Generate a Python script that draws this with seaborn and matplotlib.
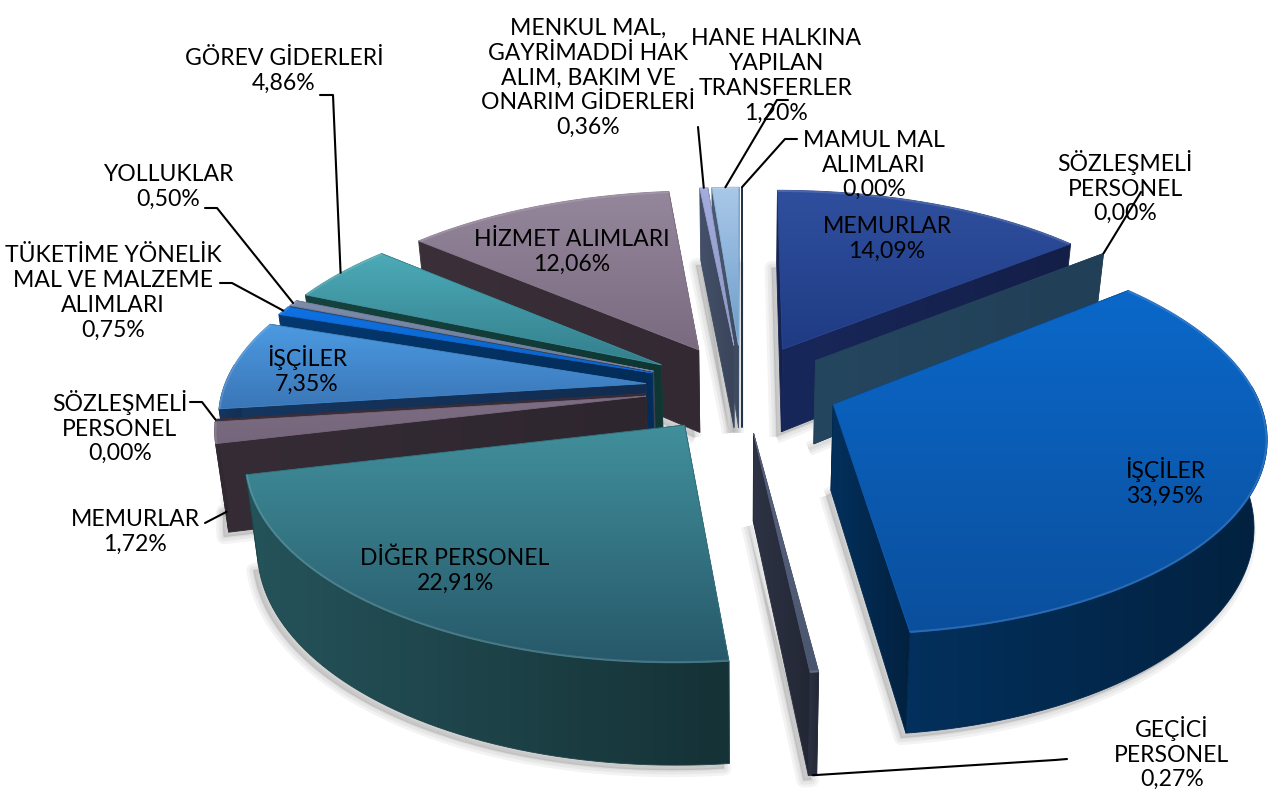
import numpy as np
import matplotlib
matplotlib.use('Agg')
import matplotlib.pyplot as plt
from matplotlib.path import Path
from matplotlib.patches import PathPatch
import seaborn as sns

names = ['MEMURLAR', 'SÖZLEŞMELİ\nPERSONEL', 'İŞÇİLER', 'GEÇİCİ\nPERSONEL', 'DİĞER PERSONEL',
         'MEMURLAR', 'SÖZLEŞMELİ\nPERSONEL', 'İŞÇİLER', 'TÜKETİME YÖNELİK\nMAL VE MALZEME\nALIMLARI',
         'YOLLUKLAR', 'GÖREV GİDERLERİ', 'HİZMET ALIMLARI',
         'MENKUL MAL,\nGAYRİMADDİ HAK\nALIM, BAKIM VE\nONARIM GİDERLERİ',
         'HANE HALKINA\nYAPILAN\nTRANSFERLER', 'MAMUL MAL\nALIMLARI']
values = [14.09, 0.00, 33.95, 0.27, 22.91, 1.72, 0.00, 7.35, 0.75, 0.50, 4.86, 12.06, 0.36, 1.20, 0.00]

top_light = ['#2f4f9e', '#24455f', '#0b68c9', '#5a6680', '#418f9b', '#7d6d83', '#3a2d3a', '#4c9ae2',
             '#0e72e4', '#7d8cab', '#4caab7', '#94869b', '#a3acdc', '#aac8e8', '#22384f']
top_dark = ['#1f3b84', '#24455f', '#0a4f9d', '#4a556e', '#27596a', '#75667b', '#3a2d3a', '#3a76b6',
            '#0c62c4', '#6b7a98', '#347f8c', '#7b6b80', '#8e98c6', '#6c9dcb', '#22384f']
wall_light = ['#18275a', '#25465f', '#03305c', '#2e3345', '#25535a', '#352c35', '#3d303d', '#16365f',
              '#04386f', '#434b5c', '#16433f', '#3b3039', '#44506a', '#4a5a72', '#1d3044']
wall_dark = ['#141f48', '#213f57', '#02213f', '#232735', '#153236', '#2e262e', '#352a35', '#122c50',
             '#032c58', '#38404f', '#103633', '#332932', '#3a4559', '#3c4a60', '#1d3044']

label_pos = [(887, 239), (1125, 187), (1165, 482), (1172, 753), (455, 571), (135, 532), (120, 427), (307, 370),
             (113, 293), (168, 187), (284, 71), (572, 252), (588, 78), (776, 76), (874, 165)]

# leader lines: slice index, elbow points, depth where it touches the slice
leaders = [(1, [(1141, 192)], 0), (3, [(1067, 759), (1055, 760)], 1), (5, [(205, 523)], 0.9),
           (6, [(190, 402), (202, 402)], 0), (8, [(220, 283), (232, 283)], 0), (9, [(205, 208), (217, 208)], 0),
           (10, [(320, 95), (333, 95)], 0), (12, [(698, 127)], 0), (13, [(788, 100), (777, 100)], 0),
           (14, [(797, 139), (785, 139)], 0)]

explode = 0.23
CX, CY = 742, 388    # pie centre in pixels
FX, FY = 422, 192    # plane scale
PERSP = 0.143
DEPTH = 85
SHRINK = 0.025


def project(x, y, z=0.0):
    s = 1 / (1 + PERSP * np.asarray(y))
    sx = CX + FX * np.asarray(x) * s * (1 - SHRINK * z)
    sy = CY + (-FY * np.asarray(y) + DEPTH * z) * s
    return np.column_stack([np.atleast_1d(sx), np.atleast_1d(sy)])


def fill(ax, pts, c1, c2, horizontal, zo):
    pts = np.asarray(pts)
    patch = PathPatch(Path(np.vstack([pts, pts[:1]])), fc='none', ec='none', zorder=zo)
    ax.add_patch(patch)
    cmap = sns.blend_palette([c1, c2], as_cmap=True)
    grad = np.linspace(0, 1, 64)
    grad = grad[None, :] if horizontal else grad[:, None]
    x0, x1 = pts[:, 0].min(), pts[:, 0].max()
    y0, y1 = pts[:, 1].min(), pts[:, 1].max()
    im = ax.imshow(grad, cmap=cmap, extent=(x0, x1, y1, y0), aspect='auto', origin='upper',
                   vmin=0, vmax=1, zorder=zo, interpolation='bilinear')
    im.set_clip_path(patch)
    # same colour outline so the thin slices do not vanish
    ax.add_patch(PathPatch(Path(np.vstack([pts, pts[:1]])), fc='none', ec=cmap(0.5), lw=0.6, zorder=zo))
    return patch


sns.set_theme(style='white')
plt.rcParams['font.family'] = ['Lato', 'DejaVu Sans']

fig = plt.figure(figsize=(12.7, 8.02), dpi=100, facecolor='white')
ax = fig.add_axes([0, 0, 1, 1])
wedges, _ = ax.pie(values, explode=[explode] * len(values), startangle=90, counterclock=False, radius=1)

geom = []
for w in wedges:
    geom.append((w.center[0], w.center[1], w.r, w.theta1, w.theta2))
    w.remove()

ax.set_aspect('auto')
ax.set_xlim(0, 1270)
ax.set_ylim(802, 0)
ax.autoscale(False)
ax.axis('off')

# soft shadow of every slice's bottom face
for cx, cy, r, t1, t2 in geom:
    t = np.radians(np.linspace(t1, t2, 80))
    xs = np.r_[cx, cx + r * np.cos(t)]
    ys = np.r_[cy, cy + r * np.sin(t)]
    pts = project(xs, ys, 1) + [-5, 5]
    for lw in (10, 6, 2):
        ax.add_patch(PathPatch(Path(np.vstack([pts, pts[:1]])), fc='#555555', ec='#555555', lw=lw,
                               alpha=0.07, zorder=1, joinstyle='round'))

order = sorted(range(len(values)), key=lambda i: -geom[i][1])
zo = 2
for i in order:
    cx, cy, r, t1, t2 = geom[i]
    t = np.radians(np.linspace(t1, t2, 160))
    ax_x = cx + r * np.cos(t)
    ax_y = cy + r * np.sin(t)

    # radial walls, the one further back first
    walls = [(ax_x[0], ax_y[0]), (ax_x[-1], ax_y[-1])]
    walls.sort(key=lambda p: -p[1])
    for ex, ey in walls:
        a = project([cx, ex], [cy, ey], 0)
        b = project([ex, cx], [ey, cy], 1)
        fill(ax, np.vstack([a, b]), wall_light[i], wall_dark[i], True, zo)
        zo += 1

    # outer wall, only the part that faces the viewer
    vis = np.sin(t) < 0.1
    if vis.sum() > 1:
        a = project(ax_x[vis], ax_y[vis], 0)
        b = project(ax_x[vis][::-1], ax_y[vis][::-1], 1)
        fill(ax, np.vstack([a, b]), wall_light[i], wall_dark[i], True, zo)
        zo += 1

    # top face
    top = project(np.r_[cx, ax_x], np.r_[cy, ax_y], 0)
    if t2 - t1 > 0:
        patch = fill(ax, top, top_light[i], top_dark[i], False, zo)
        zo += 1
        rim, = ax.plot(top[1:, 0], top[1:, 1], color='white', lw=2.5, alpha=0.14, zorder=zo)
        rim.set_clip_path(patch)
        zo += 1

# leader lines run from the label to the slice
for i, elbow, z in leaders:
    cx, cy, r, t1, t2 = geom[i]
    mid = np.radians((t1 + t2) / 2)
    end = project(cx + r * np.cos(mid), cy + r * np.sin(mid), z)
    pts = np.vstack([elbow, end])
    ax.plot(pts[:, 0], pts[:, 1], color='black', lw=1.5, zorder=zo, solid_capstyle='round')
zo += 1

for name, v, (lx, ly) in zip(names, values, label_pos):
    label = name + '\n' + f'{v:.2f}'.replace('.', ',') + '%'
    ax.text(lx, ly, label, ha='center', va='center', fontsize=16.6, color='black', linespacing=1.22,
            zorder=zo)

fig.savefig('out.png', dpi=100)
